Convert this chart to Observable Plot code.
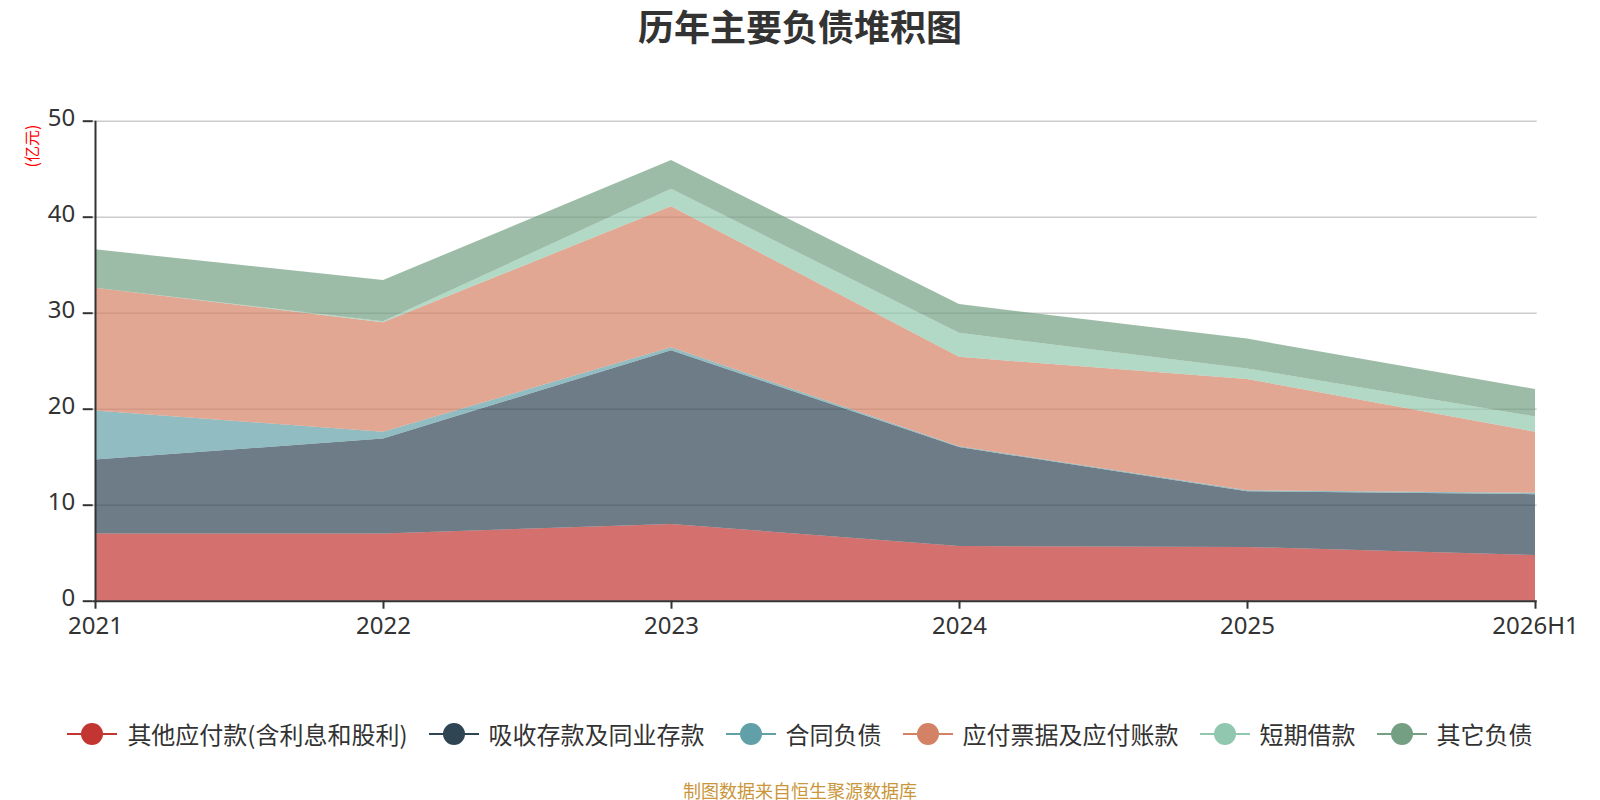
<!DOCTYPE html>
<html>
<head>
<meta charset="utf-8">
<script src="https://cdn.jsdelivr.net/npm/d3@7"></script>
<script src="https://cdn.jsdelivr.net/npm/@observablehq/plot@0.6"></script>
<style>
  html, body { margin: 0; padding: 0; background: #fff; }
  body { width: 1600px; height: 800px; position: relative; overflow: hidden;
         font-family: "Noto Sans CJK SC", "Noto Sans", sans-serif; }
  #title { position: absolute; top: 0; left: 0; width: 1600px; text-align: center;
           font-size: 36px; font-weight: bold; color: #333; line-height: 50px; }
  #chart { position: absolute; top: 0; left: 0; }
  #unit { position: absolute; left: 31px; top: 146px; transform: translate(-50%, -50%) rotate(-90deg);
          color: #ff0000; font-size: 16px; white-space: nowrap; }
  #legend { position: absolute; top: 716px; left: 0; width: 1600px; display: flex;
            justify-content: center; align-items: center; gap: 21px; }
  .item { display: flex; align-items: center; gap: 10px; font-size: 24px; color: #333; line-height: 36px; }
  #caption { position: absolute; top: 778px; left: 0; width: 1600px; text-align: center;
             font-size: 18px; color: #c9963a; line-height: 24px; }
</style>
</head>
<body>
<div id="title">历年主要负债堆积图</div>
<div id="chart"></div>
<div id="unit">(亿元)</div>
<div id="legend"></div>
<div id="caption">制图数据来自恒生聚源数据库</div>
<script>
const years = ["2021", "2022", "2023", "2024", "2025", "2026H1"];
const seriesNames = ["其他应付款(含利息和股利)", "吸收存款及同业存款", "合同负债", "应付票据及应付账款", "短期借款", "其它负债"];
const seriesColors = ["#c23531", "#2f4554", "#61a0a8", "#d48265", "#91c7ae", "#749f83"];
const otherPayables = [7.0, 7.0, 8.0, 5.7, 5.6, 4.75];
const deposits = [7.7, 9.9, 18.1, 10.3, 5.8, 6.35];
const contractLiab = [5.1, 0.7, 0.3, 0.1, 0.1, 0.15];
const notesPayable = [12.8, 11.4, 14.7, 9.3, 11.6, 6.35];
const shortLoans = [0, 0.1, 1.8, 2.5, 1.1, 1.6];
const otherLiab = [4.0, 4.3, 3.0, 3.0, 3.1, 2.85];
const yTicks = [0, 10, 20, 30, 40, 50];

const seriesValues = [otherPayables, deposits, contractLiab, notesPayable, shortLoans, otherLiab];
const data = [];
seriesNames.forEach((s, i) => {
  years.forEach((y, j) => data.push({ series: s, year: y, value: seriesValues[i][j] }));
});

const plot = Plot.plot({
  width: 1600,
  height: 660,
  marginTop: 120.7,
  marginBottom: 59.3,
  marginLeft: 92.7,
  marginRight: 63.3,
  style: { fontFamily: "'Noto Sans', 'Noto Sans CJK SC', sans-serif", color: "#333", background: "transparent", overflow: "visible" },
  x: { type: "point", domain: years, padding: 0 },
  y: { domain: [0, 50] },
  color: { domain: seriesNames, range: seriesColors },
  marks: [
    Plot.ruleY(yTicks.filter(d => d > 0), { stroke: "#cccccc", strokeWidth: 1.5 }),
    Plot.areaY(data, { x: "year", y: "value", z: "series", fill: "series", fillOpacity: 0.7, order: seriesNames }),
    Plot.ruleX([years[0]], { y1: 0, y2: 50, stroke: "#333", strokeWidth: 2 }),
    Plot.ruleY([0], { stroke: "#333", strokeWidth: 2 }),
    Plot.axisY({ ticks: yTicks, tickSize: 10, tickFormat: () => "", label: null, stroke: "#333", strokeWidth: 2 }),
    Plot.axisY({ ticks: yTicks, tickSize: 0, tickPadding: 18, fontSize: 24, label: null, dy: -3 }),
    Plot.axisX({ tickSize: 8, tickPadding: 8, fontSize: 24, label: null, stroke: "#333", strokeWidth: 2 })
  ]
});
document.getElementById("chart").appendChild(plot);

const legend = document.getElementById("legend");
seriesNames.forEach((s, i) => {
  const item = document.createElement("div");
  item.className = "item";
  item.innerHTML = `<svg width="50" height="24"><line x1="0" x2="50" y1="12" y2="12" stroke="${seriesColors[i]}" stroke-width="2"/><circle cx="25" cy="12" r="11" fill="${seriesColors[i]}"/></svg><span>${s}</span>`;
  legend.appendChild(item);
});
</script>
</body>
</html>
